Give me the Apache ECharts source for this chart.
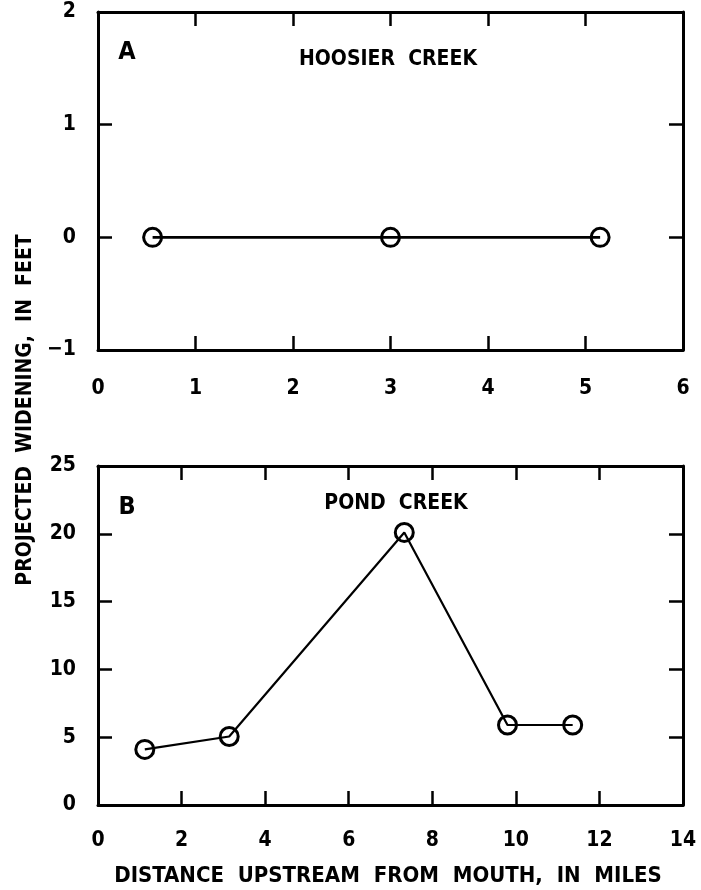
<!DOCTYPE html>
<html><head><meta charset="utf-8">
<script src="https://cdn.jsdelivr.net/npm/echarts@6/dist/echarts.min.js"></script>
<style>html,body{margin:0;padding:0;background:#fff}#c{width:701px;height:890px}</style>
</head><body><div id="c"></div>
<script>
// Panel A: Hoosier Creek
const hoosierX = [0.56, 3.0, 5.15];
const hoosierY = [0, 0, 0];
// Panel B: Pond Creek
const pondX = [1.12, 3.14, 7.33, 9.8, 11.36];
const pondY = [4.1, 5.05, 20.1, 5.9, 5.9];
const panelTitles = ['HOOSIER  CREEK', 'POND  CREEK'];
const panelLetters = ['A', 'B'];
const yTitle = 'PROJECTED  WIDENING,  IN  FEET';
const xTitle = 'DISTANCE  UPSTREAM  FROM  MOUTH,  IN  MILES';

const FONT = 'DejaVu Sans Condensed';
const lbl = {color:'#000', fontFamily:FONT, fontWeight:'bold', fontSize:21};
function mkX(gi, min, max, interval, show, margin) {
  return {type:'value', gridIndex:gi, min, max, interval, position: show ? 'bottom' : 'top',
    axisLine:{show:true, onZero:false, lineStyle:{color:'#000', width:3}},
    axisTick:{show:true, inside:true, length:14, lineStyle:{color:'#000', width:2.5}},
    axisLabel:Object.assign({show:show, margin:margin, formatter: v => String(v)}, lbl),
    splitLine:{show:false}};
}
function mkY(gi, min, max, interval, show) {
  return {type:'value', gridIndex:gi, min, max, interval, position: show ? 'left' : 'right',
    axisLine:{show:true, onZero:false, lineStyle:{color:'#000', width:3}},
    axisTick:{show:true, inside:true, length:14, lineStyle:{color:'#000', width:2.5}},
    axisLabel:Object.assign({show:show, margin:22, formatter: v => (v < 0 ? '\u2212' + Math.abs(v) : String(v))}, lbl),
    splitLine:{show:false}};
}
const ser = (xs, ys, xi, yi, w) => ({type:'line', xAxisIndex:xi, yAxisIndex:yi,
  data: xs.map((x,i)=>[x, ys[i]]), symbol:'circle', symbolSize:18,
  lineStyle:{color:'#000', width:w}, itemStyle:{color:'rgba(0,0,0,0)', borderColor:'#000', borderWidth:3},
  z:3});

const chart = echarts.init(document.getElementById('c'));
chart.setOption({
  backgroundColor:'#fff',
  animation:false,
  grid:[{left:98, right:18, top:12, height:338}, {left:98, right:18, top:466, height:339}],
  xAxis:[mkX(0,0,6,1,true,28), mkX(0,0,6,1,false,0), mkX(1,0,14,2,true,25), mkX(1,0,14,2,false,0)],
  yAxis:[mkY(0,-1,2,1,true), mkY(0,-1,2,1,false), mkY(1,0,25,5,true), mkY(1,0,25,5,false)],
  series:[ser(hoosierX, hoosierY, 0, 0, 2.8), ser(pondX, pondY, 2, 2, 2.2)],
  graphic:[
    {type:'text', x:127, y:52, style:Object.assign({text:panelLetters[0], align:'center', verticalAlign:'middle'}, lbl, {fontSize:25})},
    {type:'text', x:388, y:60, style:Object.assign({text:panelTitles[0], align:'center', verticalAlign:'middle'}, lbl)},
    {type:'text', x:127, y:507, style:Object.assign({text:panelLetters[1], align:'center', verticalAlign:'middle'}, lbl, {fontSize:25})},
    {type:'text', x:396, y:504, style:Object.assign({text:panelTitles[1], align:'center', verticalAlign:'middle'}, lbl)},
    {type:'text', x:26, y:410, rotation:Math.PI/2, style:Object.assign({text:yTitle, align:'center', verticalAlign:'middle'}, lbl)},
    {type:'text', x:388, y:876, style:Object.assign({text:xTitle, align:'center', verticalAlign:'middle'}, lbl, {fontSize:22})}
  ]
});
</script></body></html>
